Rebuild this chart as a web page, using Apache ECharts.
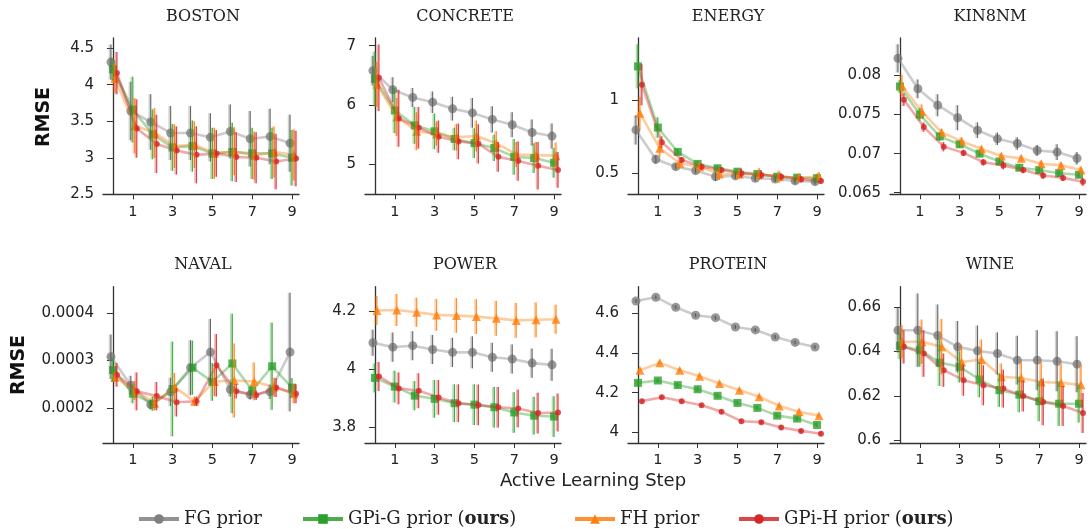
<!DOCTYPE html>
<html>
<head>
<meta charset="utf-8">
<script src="https://cdn.jsdelivr.net/npm/echarts@6/dist/echarts.min.js"></script>
<style>html,body{margin:0;padding:0;background:#fff;}#c{width:1090px;height:529px;}</style>
</head>
<body>
<div id="c"></div>
<script>
const STEPS = [0,1,2,3,4,5,6,7,8,9];
const X_TICKS = [1,3,5,7,9];
const METHODS = ['FG prior','GPi-G prior (ours)','FH prior','GPi-H prior (ours)'];
const PANEL_NAMES = ['BOSTON','CONCRETE','ENERGY','KIN8NM','NAVAL','POWER','PROTEIN','WINE'];

// BOSTON
const BOSTON_FG = [4.31,3.64,3.49,3.34,3.34,3.28,3.36,3.26,3.29,3.20];
const BOSTON_FG_ERR = [0.24,0.40,0.38,0.37,0.37,0.33,0.37,0.38,0.38,0.39];
const BOSTON_GPIG = [4.21,3.66,3.32,3.14,3.16,3.06,3.08,3.06,3.06,3.00];
const BOSTON_GPIG_ERR = [0.15,0.45,0.34,0.32,0.35,0.35,0.40,0.35,0.35,0.38];
const BOSTON_FH = [4.09,3.44,3.34,3.16,3.18,3.06,3.09,3.03,3.08,3.04];
const BOSTON_FH_ERR = [0.20,0.38,0.34,0.30,0.32,0.35,0.33,0.33,0.35,0.35];
const BOSTON_GPIH = [4.16,3.40,3.19,3.10,3.04,3.06,3.01,3.00,2.95,2.99];
const BOSTON_GPIH_ERR = [0.29,0.40,0.40,0.33,0.39,0.32,0.34,0.35,0.38,0.38];
const BOSTON_TICKS = [2.5,3,3.5,4,4.5];

// CONCRETE
const CONCRETE_FG = [6.58,6.26,6.13,6.05,5.94,5.87,5.76,5.67,5.54,5.48];
const CONCRETE_FG_ERR = [0.25,0.21,0.16,0.18,0.20,0.25,0.22,0.21,0.22,0.21];
const CONCRETE_GPIG = [6.44,5.91,5.66,5.56,5.43,5.36,5.28,5.13,5.11,5.03];
const CONCRETE_GPIG_ERR = [0.46,0.38,0.31,0.30,0.19,0.25,0.22,0.30,0.25,0.25];
const CONCRETE_FH = [6.35,5.80,5.56,5.52,5.46,5.48,5.36,5.17,5.16,5.15];
const CONCRETE_FH_ERR = [0.38,0.32,0.32,0.20,0.22,0.26,0.20,0.21,0.22,0.22];
const CONCRETE_GPIH = [6.46,5.78,5.62,5.47,5.39,5.35,5.13,5.06,4.98,4.91];
const CONCRETE_GPIH_ERR = [0.56,0.48,0.35,0.27,0.30,0.33,0.25,0.33,0.40,0.30];
const CONCRETE_TICKS = [5,6,7];

// ENERGY
const ENERGY_FG = [0.795,0.595,0.545,0.518,0.477,0.482,0.466,0.461,0.448,0.443];
const ENERGY_FG_ERR = [0.10,0.03,0.02,0.02,0.03,0.02,0.02,0.02,0.02,0.02];
const ENERGY_GPIG = [1.227,0.811,0.645,0.564,0.534,0.511,0.495,0.477,0.470,0.466];
const ENERGY_GPIG_ERR = [0.15,0.07,0.02,0.02,0.02,0.02,0.02,0.02,0.02,0.03];
const ENERGY_FH = [0.909,0.670,0.568,0.545,0.495,0.495,0.495,0.477,0.470,0.477];
const ENERGY_FH_ERR = [0.11,0.06,0.03,0.03,0.04,0.03,0.04,0.04,0.03,0.03];
const ENERGY_GPIH = [1.102,0.711,0.591,0.545,0.523,0.500,0.489,0.477,0.459,0.448];
const ENERGY_GPIH_ERR = [0.14,0.04,0.02,0.02,0.02,0.03,0.03,0.02,0.02,0.02];
const ENERGY_TICKS = [0.5,1];

// KIN8NM
const KIN8NM_FG = [0.0822,0.0783,0.0762,0.0746,0.0730,0.0719,0.0713,0.0704,0.0702,0.0694];
const KIN8NM_FG_ERR = [0.0018,0.0012,0.0014,0.0016,0.0010,0.0008,0.0008,0.0007,0.0010,0.0008];
const KIN8NM_GPIG = [0.0786,0.0750,0.0722,0.0712,0.0700,0.0690,0.0682,0.0679,0.0675,0.0673];
const KIN8NM_GPIG_ERR = [0.0008,0.0008,0.0005,0.0004,0.0004,0.0004,0.0004,0.0004,0.0004,0.0004];
const KIN8NM_FH = [0.0787,0.0754,0.0727,0.0716,0.0706,0.0697,0.0694,0.0687,0.0685,0.0679];
const KIN8NM_FH_ERR = [0.0014,0.0009,0.0005,0.0005,0.0004,0.0004,0.0004,0.0004,0.0004,0.0004];
const KIN8NM_GPIH = [0.0769,0.0734,0.0709,0.0701,0.0689,0.0685,0.0679,0.0672,0.0669,0.0664];
const KIN8NM_GPIH_ERR = [0.0008,0.0006,0.0006,0.0004,0.0004,0.0005,0.0004,0.0004,0.0004,0.0005];
const KIN8NM_TICKS = [0.065,0.07,0.075,0.08];

// NAVAL
const NAVAL_FG = [0.000308,0.000248,0.000207,0.000234,0.000285,0.000318,0.000239,0.000228,0.000234,0.000318];
const NAVAL_FG_ERR = [0.000047,0.00002,0.00001,0.00003,0.000058,0.00007,0.000015,0.00001,0.000015,0.000125];
const NAVAL_GPIG = [0.00028,0.00023,0.000209,0.00024,0.000285,0.000255,0.000294,0.000237,0.000288,0.000243];
const NAVAL_GPIG_ERR = [0.000025,0.00002,0.000015,0.0001,0.000057,0.00004,0.000105,0.00001,0.000092,0.00002];
const NAVAL_FH = [0.000265,0.000237,0.00021,0.000244,0.000214,0.000256,0.000258,0.000256,0.000244,0.00023];
const NAVAL_FH_ERR = [0.00001,0.00002,0.000015,0.00003,0.00001,0.00003,0.000078,0.00004,0.00002,0.00002];
const NAVAL_GPIH = [0.00027,0.000235,0.000225,0.000212,0.000214,0.00029,0.000235,0.000227,0.000243,0.00023];
const NAVAL_GPIH_ERR = [0.000025,0.00004,0.00003,0.00003,0.00001,0.000066,0.000015,0.00001,0.00002,0.00002];
const NAVAL_TICKS = [0.0002,0.0003,0.0004];

// POWER
const POWER_FG = [4.090,4.075,4.080,4.067,4.057,4.057,4.040,4.034,4.020,4.014];
const POWER_FG_ERR = [0.045,0.05,0.05,0.05,0.05,0.055,0.05,0.05,0.05,0.055];
const POWER_GPIG = [3.969,3.939,3.908,3.897,3.882,3.877,3.868,3.850,3.839,3.836];
const POWER_GPIG_ERR = [0.05,0.055,0.05,0.065,0.065,0.07,0.07,0.07,0.065,0.07];
const POWER_FH = [4.201,4.203,4.195,4.186,4.184,4.180,4.174,4.167,4.169,4.171];
const POWER_FH_ERR = [0.05,0.055,0.05,0.055,0.06,0.06,0.06,0.06,0.06,0.05];
const POWER_GPIH = [3.974,3.933,3.925,3.902,3.882,3.876,3.868,3.864,3.848,3.850];
const POWER_GPIH_ERR = [0.05,0.055,0.06,0.06,0.065,0.07,0.07,0.065,0.07,0.065];
const POWER_TICKS = [3.8,4,4.2];

// PROTEIN
const PROTEIN_FG = [4.662,4.681,4.630,4.590,4.578,4.531,4.516,4.480,4.453,4.430];
const PROTEIN_FG_ERR = [0.01,0.01,0.01,0.01,0.01,0.01,0.01,0.01,0.01,0.01];
const PROTEIN_GPIG = [4.249,4.261,4.238,4.217,4.184,4.148,4.123,4.084,4.069,4.037];
const PROTEIN_GPIG_ERR = [0.012,0.012,0.012,0.012,0.012,0.012,0.012,0.012,0.012,0.012];
const PROTEIN_FH = [4.313,4.350,4.313,4.283,4.246,4.212,4.179,4.133,4.103,4.084];
const PROTEIN_FH_ERR = [0.01,0.01,0.01,0.01,0.01,0.01,0.01,0.01,0.01,0.01];
const PROTEIN_GPIH = [4.157,4.177,4.157,4.136,4.103,4.056,4.051,4.024,4.007,3.993];
const PROTEIN_GPIH_ERR = [0.01,0.01,0.01,0.01,0.01,0.01,0.01,0.01,0.01,0.01];
const PROTEIN_TICKS = [4,4.2,4.4,4.6];

// WINE
const WINE_FG = [0.6496,0.6496,0.6472,0.6421,0.6403,0.6391,0.6361,0.6361,0.6356,0.6343];
const WINE_FG_ERR = [0.010,0.0165,0.014,0.0116,0.0114,0.0095,0.011,0.0135,0.0135,0.0126];
const WINE_GPIG = [0.6426,0.6406,0.6350,0.6331,0.6274,0.6226,0.6206,0.6176,0.6165,0.6165];
const WINE_GPIG_ERR = [0.006,0.0075,0.0105,0.007,0.008,0.0075,0.008,0.009,0.010,0.0085];
const WINE_FH = [0.6444,0.6444,0.6421,0.6353,0.6364,0.6286,0.6281,0.6263,0.6259,0.6250];
const WINE_FH_ERR = [0.0074,0.010,0.0125,0.0075,0.009,0.006,0.0075,0.009,0.0087,0.009];
const WINE_GPIH = [0.6421,0.6391,0.6316,0.6271,0.6248,0.6233,0.6200,0.6173,0.6155,0.6123];
const WINE_GPIH_ERR = [0.0075,0.0105,0.0075,0.007,0.009,0.0085,0.007,0.0105,0.009,0.009];
const WINE_TICKS = [0.6,0.62,0.64,0.66];

// ---- assembly ----
const PANEL_VALUES = [
  [BOSTON_FG,BOSTON_GPIG,BOSTON_FH,BOSTON_GPIH],
  [CONCRETE_FG,CONCRETE_GPIG,CONCRETE_FH,CONCRETE_GPIH],
  [ENERGY_FG,ENERGY_GPIG,ENERGY_FH,ENERGY_GPIH],
  [KIN8NM_FG,KIN8NM_GPIG,KIN8NM_FH,KIN8NM_GPIH],
  [NAVAL_FG,NAVAL_GPIG,NAVAL_FH,NAVAL_GPIH],
  [POWER_FG,POWER_GPIG,POWER_FH,POWER_GPIH],
  [PROTEIN_FG,PROTEIN_GPIG,PROTEIN_FH,PROTEIN_GPIH],
  [WINE_FG,WINE_GPIG,WINE_FH,WINE_GPIH]
];
const PANEL_ERRS = [
  [BOSTON_FG_ERR,BOSTON_GPIG_ERR,BOSTON_FH_ERR,BOSTON_GPIH_ERR],
  [CONCRETE_FG_ERR,CONCRETE_GPIG_ERR,CONCRETE_FH_ERR,CONCRETE_GPIH_ERR],
  [ENERGY_FG_ERR,ENERGY_GPIG_ERR,ENERGY_FH_ERR,ENERGY_GPIH_ERR],
  [KIN8NM_FG_ERR,KIN8NM_GPIG_ERR,KIN8NM_FH_ERR,KIN8NM_GPIH_ERR],
  [NAVAL_FG_ERR,NAVAL_GPIG_ERR,NAVAL_FH_ERR,NAVAL_GPIH_ERR],
  [POWER_FG_ERR,POWER_GPIG_ERR,POWER_FH_ERR,POWER_GPIH_ERR],
  [PROTEIN_FG_ERR,PROTEIN_GPIG_ERR,PROTEIN_FH_ERR,PROTEIN_GPIH_ERR],
  [WINE_FG_ERR,WINE_GPIG_ERR,WINE_FH_ERR,WINE_GPIH_ERR]
];
const PANEL_TICKS = [BOSTON_TICKS,CONCRETE_TICKS,ENERGY_TICKS,KIN8NM_TICKS,NAVAL_TICKS,POWER_TICKS,PROTEIN_TICKS,WINE_TICKS];
const Y_RANGE = [[2.5,4.64],[4.5,7.13],[0.357,1.42],[0.0648,0.0848],[0.000126,0.000456],[3.745,4.283],[3.946,4.734],[0.5988,0.6692]];

const COLORS = ['#7f7f7f','#2ca02c','#ff7f0e','#d62728'];
const ERR_COLORS = ['#555555','#2ca02c','#ff7f0e','#d62728'];
const SYMBOLS = ['circle','rect','triangle','circle'];
const SYM_SIZES = [9,8,9,6];
const X_OFFSETS = [-0.1,0,0.1,0.2];

const COL_LEFT = [103,365,628,890];
const ROW_TOP = [38,286.7];
const GRID_W = 196, GRID_H = 156.3;

const fmt = v => String(parseFloat(Number(v).toPrecision(6)));
const AXIS_COLOR = '#333';
const LABEL_FONT = 'DejaVu Sans';

const grids = [], xAxes = [], yAxes = [], series = [], graphics = [];
PANEL_NAMES.forEach((name, p) => {
  const col = p % 4, row = Math.floor(p / 4);
  grids.push({left: COL_LEFT[col], top: ROW_TOP[row], width: GRID_W, height: GRID_H});
  xAxes.push({
    type: 'value', gridIndex: p, min: -0.5, max: 9.35,
    splitLine: {show: false},
    axisLine: {show: true, lineStyle: {color: AXIS_COLOR, width: 1.3}},
    axisTick: {show: true, customValues: X_TICKS, length: 5, lineStyle: {color: AXIS_COLOR, width: 1}},
    axisLabel: {customValues: X_TICKS, color: '#222', fontFamily: LABEL_FONT, fontSize: 14.5, margin: 10, formatter: fmt}
  });
  yAxes.push({
    type: 'value', gridIndex: p, min: Y_RANGE[p][0], max: Y_RANGE[p][1],
    splitLine: {show: false},
    axisLine: {show: true, lineStyle: {color: AXIS_COLOR, width: 1.3}},
    axisTick: {show: true, customValues: PANEL_TICKS[p], length: 6, lineStyle: {color: AXIS_COLOR, width: 1}},
    axisLabel: {customValues: PANEL_TICKS[p], color: '#222', fontFamily: LABEL_FONT, fontSize: 15, margin: 9, formatter: fmt}
  });
  graphics.push({
    type: 'text', x: COL_LEFT[col] + GRID_W / 2 + 2, y: row === 0 ? 17 : 265,
    style: {text: name, fill: '#222', font: '16px "DejaVu Serif"', align: 'center', verticalAlign: 'middle'}
  });
  METHODS.forEach((m, k) => {
    const vals = PANEL_VALUES[p][k], errs = PANEL_ERRS[p][k];
    series.push({
      type: 'line', name: m, xAxisIndex: p, yAxisIndex: p,
      data: STEPS.map((s, i) => [s + X_OFFSETS[k], vals[i]]),
      symbol: SYMBOLS[k], symbolSize: SYM_SIZES[k], showSymbol: true,
      lineStyle: {color: COLORS[k], width: 2.6, opacity: 0.4},
      itemStyle: {color: COLORS[k], opacity: 0.8},
      z: 2 + k, animation: false, silent: true
    });
    series.push({
      type: 'custom', name: m, xAxisIndex: p, yAxisIndex: p,
      data: STEPS.map((s, i) => [s + X_OFFSETS[k], vals[i] - errs[i], vals[i] + errs[i]]),
      encode: {x: 0, y: [1, 2]},
      clip: false, z: 10 + k, animation: false, silent: true,
      renderItem: (params, api) => {
        const a = api.coord([api.value(0), api.value(1)]);
        const b = api.coord([api.value(0), api.value(2)]);
        return {type: 'group', children: [
          {type: 'line', shape: {x1: a[0] - 1, y1: a[1], x2: b[0] - 1, y2: b[1]},
            style: {stroke: COLORS[k], lineWidth: 2.6, opacity: 0.35}},
          {type: 'line', shape: {x1: a[0], y1: a[1], x2: b[0], y2: b[1]},
            style: {stroke: ERR_COLORS[k], lineWidth: 1.1, opacity: 0.85}}
        ]};
      }
    });
  });
});

graphics.push({type: 'text', x: 44, y: 117, rotation: Math.PI / 2,
  style: {text: 'RMSE', fill: '#111', font: 'bold 19px "DejaVu Sans"', align: 'center', verticalAlign: 'middle'}});
graphics.push({type: 'text', x: 19, y: 365, rotation: Math.PI / 2,
  style: {text: 'RMSE', fill: '#111', font: 'bold 19px "DejaVu Sans"', align: 'center', verticalAlign: 'middle'}});
graphics.push({type: 'text', x: 593, y: 481,
  style: {text: 'Active Learning Step', fill: '#222', font: '18px "DejaVu Sans"', align: 'center', verticalAlign: 'middle'}});

const LEGEND_LEFT = [132, 296, 568, 732];
const legends = METHODS.map((m, k) => ({
  data: [m], left: LEGEND_LEFT[k], top: 505, itemWidth: 40, itemHeight: 12,
  selectedMode: false,
  lineStyle: {opacity: 0.85, width: 4},
  itemStyle: {opacity: 1},
  formatter: n => n.indexOf('(ours)') >= 0 ? '{a|' + n.replace('(ours)', '(') + '}{b|ours}{a|)}' : '{a|' + n + '}',
  textStyle: {
    rich: {
      a: {fontFamily: 'DejaVu Serif', fontSize: 18, color: '#222'},
      b: {fontFamily: 'DejaVu Serif', fontSize: 18, fontWeight: 'bold', color: '#222'}
    }
  }
}));

const chart = echarts.init(document.getElementById('c'), null, {renderer: 'canvas'});
chart.setOption({
  backgroundColor: '#fff',
  animation: false,
  grid: grids, xAxis: xAxes, yAxis: yAxes, series: series,
  legend: legends, graphic: graphics
});
</script>
</body>
</html>
